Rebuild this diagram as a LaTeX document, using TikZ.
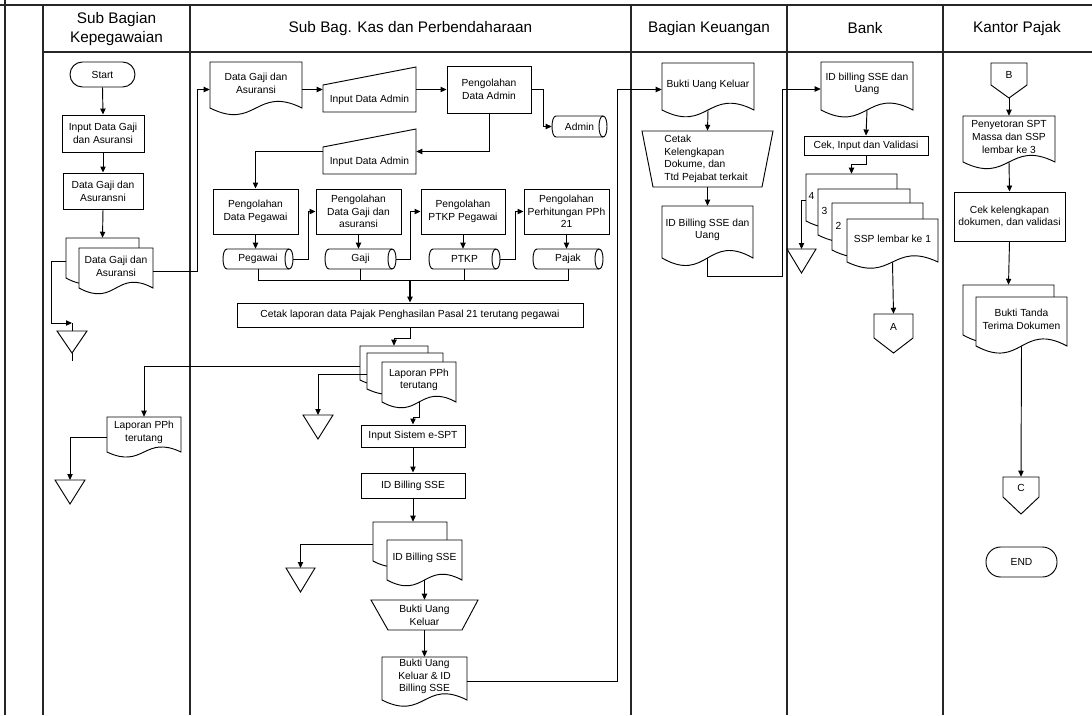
\documentclass[tikz,border=0pt]{standalone}
\usepackage{fontspec}
\setmainfont{Liberation Sans}
\usetikzlibrary{arrows.meta,calc}
\tikzset{
 shp/.style={draw=black,line width=0.7pt,fill=white},
 ln/.style={draw=black,line width=0.7pt},
 arr/.style={ln,-{Triangle[length=4.5pt,width=4pt]}},
 txt/.style={inner sep=0pt,align=center,font=\fontsize{7.7}{9.5}\selectfont},
 hdr/.style={inner sep=0pt,align=center,font=\fontsize{11.5}{14.5}\selectfont},
 frame/.style={draw=black!85,line width=1pt},
 lo/.style={yshift=-2.25pt},
}
% document: name,x0,y0,x1,yb,text
\newcommand\mkdoc[6]{%
 \draw[shp] (#2,#3) -- (#4,#3) -- (#4,#5) .. controls ({(#2+#4)/2},{#5-0.5*(#5-#3)}) and ({(#2+#4)/2},{#5+0.5*(#5-#3)}) .. (#2,#5) -- cycle;
 \node[inner sep=0pt,minimum width={(#4-#2)*0.75pt},minimum height={(#5-#3)*0.75pt}] (#1) at ({(#2+#4)/2},{(#3+#5)/2}) {};
 \node[txt] (#1t) at ({(#2+#4)/2},{(#3+#5)/2-2}) {#6};}
% process box: name,x0,y0,x1,y1,text
\newcommand\mkbox[6]{%
 \node[shp,txt,minimum width={(#4-#2)*0.75pt},minimum height={(#5-#3)*0.75pt}] (#1) at ({(#2+#4)/2},{(#3+#5)/2}) {#6};}
% horizontal cylinder: name,x0,y0,x1,y1,text
\newcommand\mkcyl[6]{%
 \draw[shp] (#2+4,#3) -- (#4-4,#3) .. controls (#4+1.33,#3) and (#4+1.33,#5) .. (#4-4,#5) -- (#2+4,#5) .. controls (#2-1.33,#5) and (#2-1.33,#3) .. (#2+4,#3) -- cycle;
 \draw[ln] (#4-4,#3) .. controls (#4-9.33,#3) and (#4-9.33,#5) .. (#4-4,#5);
 \node[txt,minimum width={(#4-#2)*0.75pt},minimum height={(#5-#3)*0.75pt}] (#1) at ({(#2+#4)/2},{(#3+#5)/2}) {#6};}
% manual input: name,x0,ytopleft,x1,ytopright,ybottom,text
\newcommand\mkmin[7]{%
 \draw[shp] (#2,#3) -- (#4,#5) -- (#4,#6) -- (#2,#6) -- cycle;
 \node[inner sep=0pt,minimum width={(#4-#2)*0.75pt},minimum height={(#6-#5)*0.75pt}] (#1) at ({(#2+#4)/2},{(#5+#6)/2}) {};
 \node[txt] (#1t) at ({(#2+#4)/2},{(#3+#6)/2+1}) {#7};}
% manual operation: name,xt0,xt1,yt,xb0,xb1,yb,text
\newcommand\mkmop[8]{%
 \draw[shp] (#2,#4) -- (#3,#4) -- (#6,#7) -- (#5,#7) -- cycle;
 \node[txt,minimum width={(#6-#5)*0.75pt},minimum height={(#7-#4)*0.75pt}] (#1) at ({(#2+#3)/2},{(#4+#7)/2}) {#8};}
% off-page connector: name,x0,x1,ytop,yside,yapex,text
\newcommand\mkoff[7]{%
 \draw[shp] (#2,#4) -- (#3,#4) -- (#3,#5) -- ({(#2+#3)/2},#6) -- (#2,#5) -- cycle;
 \node[inner sep=0pt,minimum width={(#3-#2)*0.75pt},minimum height={(#6-#4)*0.75pt}] (#1) at ({(#2+#3)/2},{(#4+#6)/2}) {};
 \node[txt] (#1t) at ({(#2+#3)/2},{(#4+#5)/2+1}) {#7};}
% offline storage triangle: name,x0,x1,ytop,yapex
\newcommand\mktri[5]{%
 \draw[shp] (#2,#4) -- (#3,#4) -- ({(#2+#3)/2},#5) -- cycle;
 \coordinate (#1) at ({(#2+#3)/2},#4);
 \coordinate (#1b) at ({(#2+#3)/2},#5);}
\begin{document}
\begin{tikzpicture}[x=0.75pt,y=-0.75pt]
\useasboundingbox (0,0) rectangle (1092,715);
% ---- frame and lanes
\draw[frame] (0,5) -- (1092,5);
\draw[frame] (5,0) -- (5,715);
\foreach \xx in {43,190,631,787,943} \draw[frame] (\xx,5) -- (\xx,715);
\draw[frame] (43,52) -- (1092,52);
\node[hdr] (h1) at (116.5,29) {Sub Bagian\\Kepegawaian};
\node[hdr] (h2) at (410.5,28.5) {Sub Bag. Kas dan Perbendaharaan};
\node[hdr] (h3) at (709,28.5) {Bagian Keuangan};
\node[hdr] (h4) at (865,28.5) {Bank};
\node[hdr] (h5) at (1017,28.5) {Kantor Pajak};

% ---- lane 1
\node[shp,txt,rounded corners=9.3pt,minimum width=48.75pt,minimum height=18.75pt] (start) at (102.5,74.5) {Start};
\mkbox{in1}{62}{115}{144}{152}{Input Data Gaji\\dan Asuransi}
\mkbox{dg1}{63}{173}{143}{209}{Data Gaji dan\\Asuransni}
\mkdoc{md1b}{66}{238}{139}{278}{}
\mkdoc{md1f}{79}{248}{153}{288}{Data Gaji dan\\Asuransi}
\mktri{tri1}{57}{87}{331}{353}
\draw[ln] (tri1b) -- ++(0,8);
\mkdoc{lp1}{107}{417}{181}{452}{Laporan PPh\\terutang}
\mktri{tri5}{55}{85}{480}{504}

% ---- lane 2
\mkdoc{dg2}{210}{62}{302}{108}{Data Gaji dan\\Asuransi}
\mkmin{mi1}{323}{85}{416}{67}{112}{Input Data Admin}
\mkbox{pda}{447}{66}{531}{113}{Pengolahan\\Data Admin}
\mkcyl{adm}{552}{116}{607}{137}{Admin}
\mkmin{mi2}{323}{147}{416}{129}{174}{Input Data Admin}
\mkbox{pdp}{213}{189}{298}{234}{Pengolahan\\Data Pegawai}
\mkbox{pdg}{316}{189}{401}{234}{Pengolahan\\Data Gaji dan\\asuransi}
\mkbox{ptkp}{421}{189}{505}{234}{Pengolahan\\PTKP Pegawai}
\mkbox{pph}{524}{189}{609}{234}{Pengolahan\\Perhitungan PPh\\21}
\mkcyl{cpeg}{223}{249}{293}{269}{Pegawai}
\mkcyl{cgaji}{325}{249}{396}{269}{Gaji}
\mkcyl{cptkp}{429}{249}{500}{269}{PTKP}
\mkcyl{cpajak}{533}{249}{603}{269}{Pajak}
\coordinate (bus) at (410,280);
\mkbox{cetak}{237}{303}{583}{327}{Cetak laporan data Pajak Penghasilan Pasal 21 terutang pegawai}
\mkdoc{md2a}{360}{346}{428}{380}{}
\mkdoc{md2b}{367}{353}{443}{389}{}
\mkdoc{md2c}{382}{362}{456}{402}{Laporan PPh\\terutang}
\mktri{tri2}{303}{333}{415}{439}
\mkbox{esp}{361}{425}{465}{447}{Input Sistem e-SPT}
\mkbox{idb}{361}{473}{465}{498}{ID Billing SSE}
\mkdoc{md3a}{373}{522}{447}{561}{}
\mkdoc{md3b}{387}{540}{462}{580}{ID Billing SSE}
\mktri{tri3}{286}{315}{568}{592}
\mkmop{buk}{371}{478}{600}{388}{462}{630}{Bukti Uang\\Keluar}
\mkdoc{bdoc}{382}{657}{467}{700}{Bukti Uang\\Keluar \& ID\\Billing SSE}
\coordinate (j1) at (197,0);
\coordinate (j2) at (617,0);

% ---- lane 3
\mkdoc{buk3}{662}{63}{754}{110}{Bukti Uang Keluar}
\mkmop{cetak3}{642}{773}{131}{653}{762}{187}{}
\node[txt,align=left] (cetak3t) at (706,159) {Cetak\\Kelengkapan\\Dokume, dan\\Ttd Pejabat terkait};
\mkdoc{idb3}{662}{206}{753}{258}{ID Billing SSE dan\\Uang}
\coordinate (j3) at (782,276);

% ---- lane 4
\mkdoc{bd1}{821}{62}{913}{110}{ID billing SSE dan\\Uang}
\mkbox{civ}{804}{136}{928}{155}{Cek, Input dan Validasi}
\mkdoc{s4}{806}{174}{897}{221}{}
\mkdoc{s3}{818}{189}{910}{235}{}
\mkdoc{s2}{832}{203}{923}{250}{}
\mkdoc{s1}{847}{219}{938}{262}{SSP lembar ke 1}
\node[txt] (n4) at (811.5,196) {4};
\node[txt] (n3) at (824.5,211) {3};
\node[txt] (n2) at (838.5,226) {2};
\mktri{tri4}{787}{816}{249}{273}
\mkoff{offA}{874}{913}{314}{338}{353}{A}

% ---- lane 5
\mkoff{offB}{991}{1027}{63}{85}{98}{B}
\mkdoc{pen}{963}{116}{1055}{162}{Penyetoran SPT\\Massa dan SSP\\lembar ke 3}
\mkbox{cekd}{954}{192}{1065}{241}{Cek kelengkapan\\dokumen, dan validasi}
\mkdoc{bt2}{963}{285}{1054}{335}{}
\mkdoc{bt1}{976}{297}{1067}{346}{Bukti Tanda\\Terima Dokumen}
\mkoff{offC}{1003}{1039}{477}{497}{514}{C}
\node[shp,txt,rounded corners=11pt,minimum width=53.25pt,minimum height=22.5pt] (endn) at (1021.5,562) {END};

% ---- connectors lane 1
\draw[arr] (start.south) -- (in1.north);
\draw[arr] (in1.south) -- (dg1.north);
\draw[arr] (dg1.south) -- (md1b.north);
\draw[arr] ([lo]md1b.west) -- ++(-14,0) |- ($(tri1)+(0,-8)$);
\draw[ln] ($(tri1)+(0,-8)$) -- (tri1);
\draw[arr] ([lo]md1f.east) -- ([lo]md1f.east -| j1) |- (dg2.west |- pda.west);
\draw[arr] ([lo]lp1.west) -| (tri5);

% ---- connectors lane 2
\draw[arr] (dg2.east |- pda.west) -- (mi1.west |- pda.west);
\draw[arr] (mi1.east |- pda.west) -- (pda.west);
\draw[arr] (pda.east) -- ++(12,0) |- (adm.west);
\draw[arr] (pda.south) |- (mi2.east);
\draw[arr] (mi2.west) -| (pdp.north);
\draw[arr] (pdp.south) -- (pdp.south |- cpeg.north);
\draw[arr] (pdg.south) -- (pdg.south |- cgaji.north);
\draw[arr] (ptkp.south) -- (ptkp.south |- cptkp.north);
\draw[arr] (pph.south) -- (pph.south |- cpajak.north);
\draw[arr] (cpeg.east) -- ++(15,0) |- (pdg.west);
\draw[arr] (cgaji.east) -- ++(14,0) |- (ptkp.west);
\draw[arr] (cptkp.east) -- ++(15,0) |- (pph.west);
\draw[ln] (cpeg.south) -- (cpeg.south |- bus) -- (cpajak.south |- bus) -- (cpajak.south);
\draw[ln] (cgaji.south) -- (cgaji.south |- bus);
\draw[ln] (cptkp.south) -- (cptkp.south |- bus);
\draw[arr,line width=1.3pt] (bus) -- (bus |- cetak.north);
\draw[arr] (cetak.south) -- ++(0,11) -| (md2a.north);
\draw[arr] ([lo]md2a.west) -| (lp1.north);
\draw[arr] ([lo]md2b.west) -| (tri2);
\draw[arr] (md2c.south) -- ++(0,15) -| (esp.north);
\draw[arr] (esp.south) -- (idb.north);
\draw[arr] (idb.south) -- (idb.south |- md3a.north);
\draw[arr] ([lo]md3a.west) -| (tri3);
\draw[arr] (md3b.south) -- (buk.north);
\draw[arr] (buk.south) -- (bdoc.north);
\draw[arr] ([lo]bdoc.east) -- ([lo]bdoc.east -| j2) |- ([lo]buk3.west);

% ---- connectors lane 3
\draw[arr] (buk3.south) -- (cetak3.north);
\draw[arr] (cetak3.south) -- (idb3.north);
\draw[arr] (idb3.south) |- (j3) |- ([lo]bd1.west);

% ---- connectors lane 4
\draw[arr] (bd1.south) -- (civ.north);
\draw[arr] (civ.south) -- ++(0,9) -| (s4.north);
\draw[arr] ([lo]s4.west) -| (tri4);
\draw[arr] (s1.south) -- (offA.north);

% ---- connectors lane 5
\draw[arr] (offB.south) -- (pen.north);
\draw[arr] (pen.south) -- (cekd.north);
\draw[arr] (cekd.south) -- (bt2.north);
\draw[arr] (bt1.south) -- (offC.north);
\end{tikzpicture}
\end{document}
